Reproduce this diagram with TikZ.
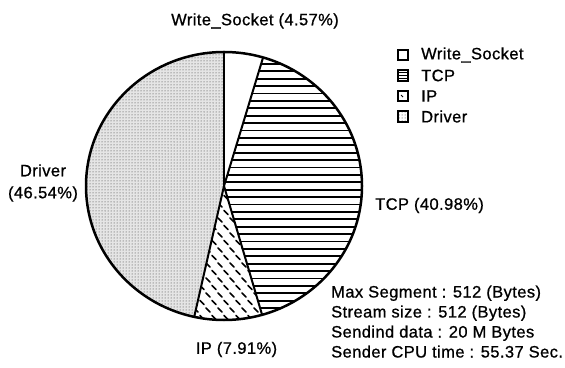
\documentclass[tikz,border=0pt]{standalone}
\usepackage{fontspec}
\setmainfont{Liberation Sans}[FakeBold=0.8, LetterSpace=2.5]
\usetikzlibrary{patterns}

\tikzset{
    wedge/.style={draw=black, line width=2pt, line join=round},
    rim/.style={draw=black, line width=2.5pt},
    tcpline/.style={line width=1.8pt},
    ipdash/.style={line width=1.5pt, line cap=round},
    keybox/.style={rectangle, draw=black, line width=1.8pt, minimum size=10.5pt, inner sep=0pt},
    lbl/.style={font=\fontsize{16.5}{22}\selectfont, inner sep=0pt},
}

\begin{document}
\begin{tikzpicture}[x=1pt,y=1pt]
    \useasboundingbox (0,0) rectangle (565,367);
    \coordinate (O) at (224,181);

    % Driver (stippled)
    \fill[black!10] (O) -- ++(90:138pt and 134pt)
        arc[start angle=90, end angle=257.54, x radius=138pt, y radius=134pt] -- cycle;
    \fill[pattern=dots, pattern color=black!80] (O) -- ++(90:138pt and 134pt)
        arc[start angle=90, end angle=257.54, x radius=138pt, y radius=134pt] -- cycle;

    % TCP (horizontal hatching)
    \begin{scope}
        \clip (O) -- ++(-73.98:138pt and 134pt)
            arc[start angle=-73.98, end angle=73.55, x radius=138pt, y radius=134pt] -- cycle;
        \foreach \yy in {44,51.4,...,324}
            \draw[tcpline] (215,\yy) -- (370,\yy);
    \end{scope}

    % IP (short dashes)
    \begin{scope}
        \clip (O) -- ++(-102.46:138pt and 134pt)
            arc[start angle=-102.46, end angle=-73.98, x radius=138pt, y radius=134pt] -- cycle;
        \foreach \xx in {184,196,...,272}
            \foreach \yy in {42,57,...,190} {
                \draw[ipdash] (\xx-2.2,\yy+2.2) -- (\xx+2.2,\yy-2.2);
                \draw[ipdash] (\xx+3.8,\yy+9.7) -- (\xx+8.2,\yy+5.3);
            }
    \end{scope}

    % outline and separators
    \draw[rim] (O) ellipse[x radius=138pt, y radius=134pt];
    \draw[wedge] (O) -- ++(90:138pt and 134pt);
    \draw[wedge] (O) -- ++(73.55:138pt and 134pt);
    \draw[wedge] (O) -- ++(-73.98:138pt and 134pt);
    \draw[wedge] (O) -- ++(-102.46:138pt and 134pt);

    \begin{scope}[every node/.style={lbl}]
        \node (lws) at (255,346) {Write\_Socket (4.57\%)};
        \node (ltcp) [anchor=west] at (375,161.5) {TCP (40.98\%)};
        \node (lip) at (236.5,17.5) {IP (7.91\%)};
        \node (ldrv) [align=center] at (43,184) {Driver\\(46.54\%)};
    \end{scope}

    % key
    \node (kws) [keybox] at (403,312) {};
    \node (ktcp) [keybox, path picture={
        \foreach \k in {-2.6,0,2.6}
            \draw[line width=1pt] ([yshift=\k pt]path picture bounding box.west) -- ([yshift=\k pt]path picture bounding box.east);
        }] at (403,291.5) {};
    \node (kip) [keybox, path picture={
        \draw[line width=1pt] ([shift={(-2pt,1pt)}]path picture bounding box.center) -- ++(2pt,-2pt);
        }] at (403,271) {};
    \node (kdrv) [keybox, fill=black!10, pattern=dots, pattern color=black!80] at (403,250.5) {};
    \begin{scope}[every node/.style={lbl, anchor=west}]
        \node (tws) at (421,312) {Write\_Socket};
        \node (ttcp) at (421,291.5) {TCP};
        \node (tip) at (421,271) {IP};
        \node (tdrv) at (421,250.5) {Driver};
    \end{scope}

    % run settings
    \begin{scope}[every node/.style={lbl, anchor=base west}]
        \node (s1) at (331,69.5) {Max Segment : 512 (Bytes)};
        \node (s2) at (331,49.5) {Stream size : 512 (Bytes)};
        \node (s3) at (331,29.5) {Sendind data : 20 M Bytes};
        \node (s4) at (331,9.5) {Sender CPU time : 55.37 Sec.};
    \end{scope}
\end{tikzpicture}
\end{document}
